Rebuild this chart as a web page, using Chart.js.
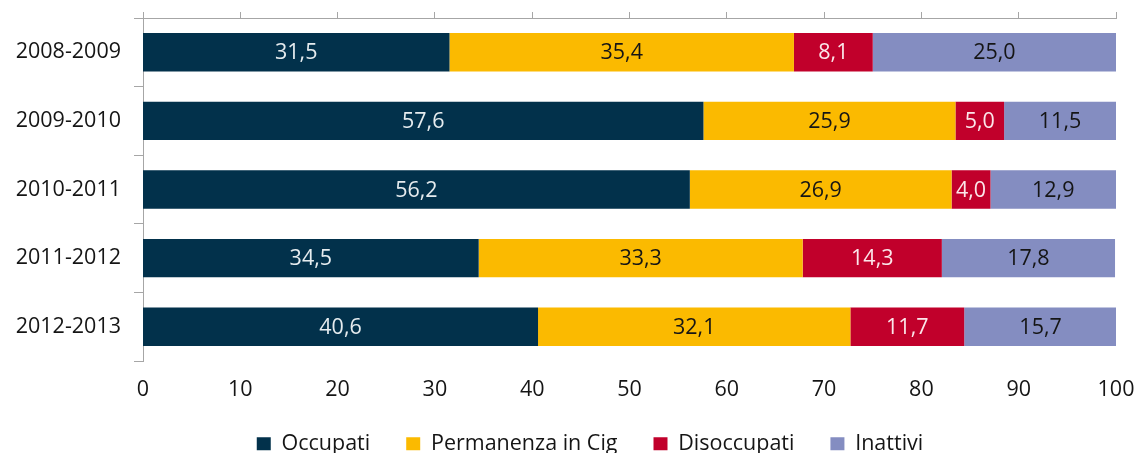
<!DOCTYPE html>
<html>
<head>
<meta charset="utf-8">
<script src="https://cdn.jsdelivr.net/npm/chart.js@4/dist/chart.umd.min.js"></script>
<style>
  html, body { margin: 0; padding: 0; background: #ffffff; }
  #wrap { width: 1139px; height: 453px; position: relative; }
</style>
</head>
<body>
<div id="wrap"><canvas id="c" width="1139" height="453"></canvas></div>
<script>
const categories = ['2008-2009', '2009-2010', '2010-2011', '2011-2012', '2012-2013'];
const occupati    = [31.5, 57.6, 56.2, 34.5, 40.6];
const permanenza  = [35.4, 25.9, 26.9, 33.3, 32.1];
const disoccupati = [8.1, 5.0, 4.0, 14.3, 11.7];
const inattivi    = [25.0, 11.5, 12.9, 17.8, 15.7];
const seriesNames = ['Occupati', 'Permanenza in Cig', 'Disoccupati', 'Inattivi'];
const xTicks = [0, 10, 20, 30, 40, 50, 60, 70, 80, 90, 100];

const FONT = '"Open Sans", "DejaVu Sans", sans-serif';
const FS = 21.5;
const colors = ['#02314B', '#FBBA00', '#C1002B', '#848DC1'];
const labelColors = ['#E6ECEF', '#151515', '#FBE6EA', '#151515'];
const axisColor = '#A6A6A6';
const textColor = '#151515';

const seriesData = [occupati, permanenza, disoccupati, inattivi];

const dataLabels = {
  id: 'dataLabels',
  afterDatasetsDraw(chart) {
    const ctx = chart.ctx;
    ctx.save();
    ctx.font = FS + 'px ' + FONT;
    ctx.textAlign = 'center';
    ctx.textBaseline = 'middle';
    chart.data.datasets.forEach((ds, i) => {
      const meta = chart.getDatasetMeta(i);
      meta.data.forEach((el, j) => {
        const v = ds.data[j];
        const cx = (el.x + el.base) / 2;
        ctx.fillStyle = labelColors[i];
        ctx.fillText(v.toFixed(1).replace('.', ','), cx, el.y + 1);
      });
    });
    ctx.restore();
  }
};

const LEGEND_SHIFT = 32;
const legendFit = {
  id: 'legendFit',
  beforeInit(chart) {
    const lg = chart.legend;
    if (lg) {
      const orig = lg.fit;
      lg.fit = function () { orig.call(this); this.height = 56; };
    }
  },
  afterLayout(chart) {
    const lg = chart.legend;
    if (lg) { lg.left += LEGEND_SHIFT; lg.right += LEGEND_SHIFT; }
  }
};

new Chart(document.getElementById('c'), {
  type: 'bar',
  data: {
    labels: categories,
    datasets: seriesData.map((d, i) => ({
      label: seriesNames[i],
      data: d,
      backgroundColor: colors[i],
      borderWidth: 0,
      xAxisID: 'x',
      yAxisID: 'y',
      categoryPercentage: 1,
      barPercentage: 0.56
    }))
  },
  options: {
    indexAxis: 'y',
    responsive: false,
    animation: false,
    devicePixelRatio: 1,
    layout: { padding: { left: 0, right: 23, top: 12, bottom: 0 } },
    plugins: {
      legend: {
        position: 'bottom',
        labels: {
          boxWidth: 14,
          boxHeight: 13,
          padding: 36,
          color: textColor,
          font: { family: FONT, size: FS }
        }
      },
      tooltip: { enabled: false }
    },
    scales: {
      y: {
        type: 'category',
        position: 'left',
        stacked: true,
        afterFit(scale) { scale.width = 143; scale.paddingTop = 0; scale.paddingBottom = 0; },
        border: { display: true, color: axisColor, width: 1 },
        grid: { display: true, drawOnChartArea: false, drawTicks: true, tickLength: 9, color: axisColor, offset: true },
        ticks: { color: textColor, font: { family: FONT, size: FS }, padding: 13 }
      },
      xTop: {
        type: 'linear',
        position: 'top',
        min: 0, max: 100,
        afterBuildTicks(scale) { scale.ticks = xTicks.map(v => ({ value: v })); },
        afterFit(scale) { scale.height = 6; scale.paddingLeft = 0; scale.paddingRight = 0; },
        border: { display: true, color: axisColor, width: 1 },
        grid: { display: true, drawOnChartArea: false, drawTicks: true, tickLength: 6, color: axisColor },
        ticks: { display: false }
      },
      x: {
        type: 'linear',
        position: 'bottom',
        stacked: true,
        min: 0, max: 100,
        afterBuildTicks(scale) { scale.ticks = xTicks.map(v => ({ value: v })); },
        afterFit(scale) { scale.height = 36; scale.paddingLeft = 0; scale.paddingRight = 0; },
        border: { display: false },
        grid: { display: false },
        ticks: { color: textColor, font: { family: FONT, size: FS }, padding: 8, maxRotation: 0 }
      }
    }
  },
  plugins: [dataLabels, legendFit]
});
</script>
</body>
</html>
